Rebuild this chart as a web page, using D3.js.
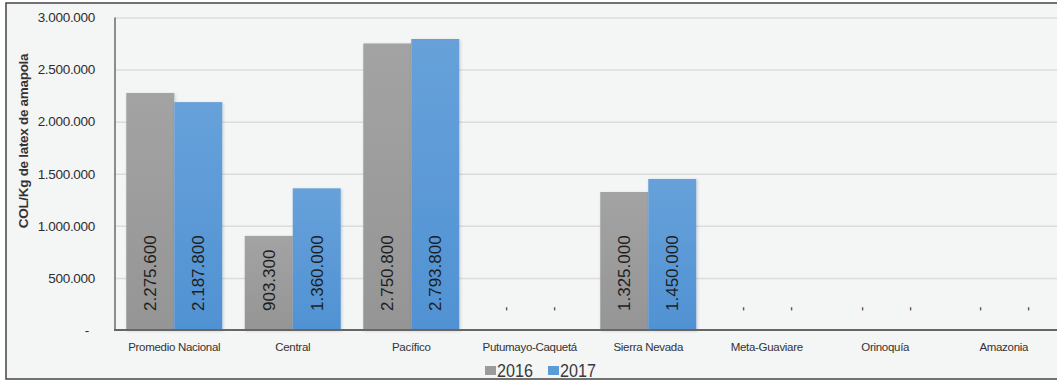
<!DOCTYPE html>
<html>
<head>
<meta charset="utf-8">
<script src="https://cdn.jsdelivr.net/npm/d3@7"></script>
<style>
  html, body { margin: 0; padding: 0; background: #ffffff; }
  svg { display: block; }
</style>
</head>
<body>
<svg id="chart" width="1057" height="381"></svg>
<script>
// Precio del látex de amapola por región (COL/Kg)
const categories = ["Promedio Nacional", "Central", "Pacífico", "Putumayo-Caquetá",
                    "Sierra Nevada", "Meta-Guaviare", "Orinoquía", "Amazonia"];
const years = ["2016", "2017"];
const values2016 = [2275600, 903300, 2750800, 0, 1325000, 0, 0, 0];
const values2017 = [2187800, 1360000, 2793800, 0, 1450000, 0, 0, 0];
const yTicks = [0, 500000, 1000000, 1500000, 2000000, 2500000, 3000000];
const yTitle = "COL/Kg de latex de amapola";

const colors = { "2016": "#9b9b9b", "2017": "#5b9bd6" };

const locale = d3.formatLocale({ decimal: ",", thousands: ".", grouping: [3], currency: ["$", ""] });
const fmt = locale.format(",d");
const label = v => (v === 0 ? "-" : fmt(v));

const svg = d3.select("#chart");

// frame
svg.append("rect")
  .attr("x", 6).attr("y", 3).attr("width", 1070).attr("height", 376)
  .attr("fill", "#f4f5f5").attr("stroke", "#444").attr("stroke-width", 1.5);

const x0 = d3.scaleBand().domain(categories).range([115, 1063])
  .paddingInner(0.19).paddingOuter(0.095);
const x1 = d3.scaleBand().domain(years).range([0, x0.bandwidth()]);
const y = d3.scaleLinear().domain([0, 3000000]).range([330, 17.5]);

const defs = svg.append("defs");
const shadow = defs.append("filter").attr("id", "soft").attr("x", "-20%").attr("y", "-5%")
  .attr("width", "140%").attr("height", "110%");
shadow.append("feDropShadow").attr("dx", 1).attr("dy", 1).attr("stdDeviation", 1.5)
  .attr("flood-color", "#000").attr("flood-opacity", 0.18);

const gradBlue = defs.append("linearGradient").attr("id", "gBlue").attr("x1", 0).attr("x2", 0).attr("y1", 0).attr("y2", 1);
gradBlue.append("stop").attr("offset", "0%").attr("stop-color", "#67a1da");
gradBlue.append("stop").attr("offset", "100%").attr("stop-color", "#5092d3");
const gradGrey = defs.append("linearGradient").attr("id", "gGrey").attr("x1", 0).attr("x2", 0).attr("y1", 0).attr("y2", 1);
gradGrey.append("stop").attr("offset", "0%").attr("stop-color", "#a3a3a3");
gradGrey.append("stop").attr("offset", "100%").attr("stop-color", "#959595");
const fills = { "2016": "url(#gGrey)", "2017": "url(#gBlue)" };

// gridlines
const grid = svg.append("g")
  .attr("transform", "translate(115,0)")
  .call(d3.axisLeft(y).tickValues(yTicks.filter(t => t > 0)).tickSize(-960).tickFormat(""));
grid.select(".domain").remove();
grid.selectAll(".tick line").attr("stroke", "#dcdcdc").attr("stroke-width", 1.5);

// y axis tick labels
const yAxis = svg.append("g")
  .attr("transform", "translate(115,0)")
  .call(d3.axisLeft(y).tickValues(yTicks).tickSize(0).tickPadding(20).tickFormat(label));
yAxis.select(".domain").remove();
yAxis.selectAll("text")
  .attr("font-family", "Liberation Sans, Arial, sans-serif")
  .attr("font-size", 13.5).attr("fill", "#2e2e2e").attr("letter-spacing", -0.3)
  .attr("dx", d => d === 0 ? -6 : 0);

// y title
svg.append("text")
  .attr("transform", "translate(28,141) rotate(-90)")
  .attr("text-anchor", "middle")
  .attr("font-family", "Liberation Sans, Arial, sans-serif")
  .attr("font-weight", "bold").attr("font-size", 13.5).attr("fill", "#333")
  .attr("letter-spacing", -0.3)
  .text(yTitle);

// bars
const rows = categories.map((c, i) => ({ cat: c, vals: [
  { year: "2016", value: values2016[i] },
  { year: "2017", value: values2017[i] }
]}));

const groups = svg.append("g").selectAll("g").data(rows).join("g")
  .attr("transform", d => `translate(${x0(d.cat)},0)`);

groups.selectAll("rect").data(d => d.vals.filter(v => v.value > 0)).join("rect")
  .attr("x", d => x1(d.year))
  .attr("y", d => y(d.value))
  .attr("width", x1.bandwidth())
  .attr("height", d => y(0) - y(d.value))
  .attr("fill", d => fills[d.year])
  .attr("filter", "url(#soft)");

// value labels, written upward from near the base of each bar
groups.selectAll("text").data(d => d.vals).join("text")
  .attr("transform", d => `translate(${x1(d.year) + x1.bandwidth() / 2},${y(0) - 19}) rotate(-90)`)
  .attr("dy", "0.36em")
  .attr("text-anchor", "start")
  .attr("font-family", "Liberation Sans, Arial, sans-serif")
  .attr("font-size", d => d.value === 0 ? 13 : 17)
  .attr("fill", "#1e1e1e")
  .text(d => label(d.value));

// axes lines
svg.append("line").attr("x1", 115).attr("x2", 115).attr("y1", y(3000000)).attr("y2", y(0))
  .attr("stroke", "#6a6a6a").attr("stroke-width", 1.5);
svg.append("line").attr("x1", 114).attr("x2", 1063).attr("y1", y(0)).attr("y2", y(0))
  .attr("stroke", "#666").attr("stroke-width", 2);

// category labels
const xAxis = svg.append("g")
  .attr("transform", `translate(0,${y(0)})`)
  .call(d3.axisBottom(x0).tickSize(0).tickPadding(13));
xAxis.select(".domain").remove();
xAxis.selectAll("text")
  .attr("font-family", "Liberation Sans, Arial, sans-serif")
  .attr("font-size", 11.5).attr("fill", "#333").attr("letter-spacing", -0.3);

// legend
const legend = svg.append("g").attr("transform", "translate(485,377)");
const lx = { "2016": 0, "2017": 63 };
years.forEach(yr => {
  const g = legend.append("g").attr("transform", `translate(${lx[yr]},0)`);
  g.append("rect").attr("x", 0).attr("y", -11).attr("width", 11).attr("height", 9).attr("fill", colors[yr]);
  g.append("text").attr("x", 12).attr("y", 0)
    .attr("font-family", "Liberation Sans, Arial, sans-serif")
    .attr("font-size", 19).attr("fill", "#3a3a3a")
    .attr("transform", `scale(0.85,1) translate(${12 * 0.176},0)`)
    .text(yr);
});
</script>
</body>
</html>
